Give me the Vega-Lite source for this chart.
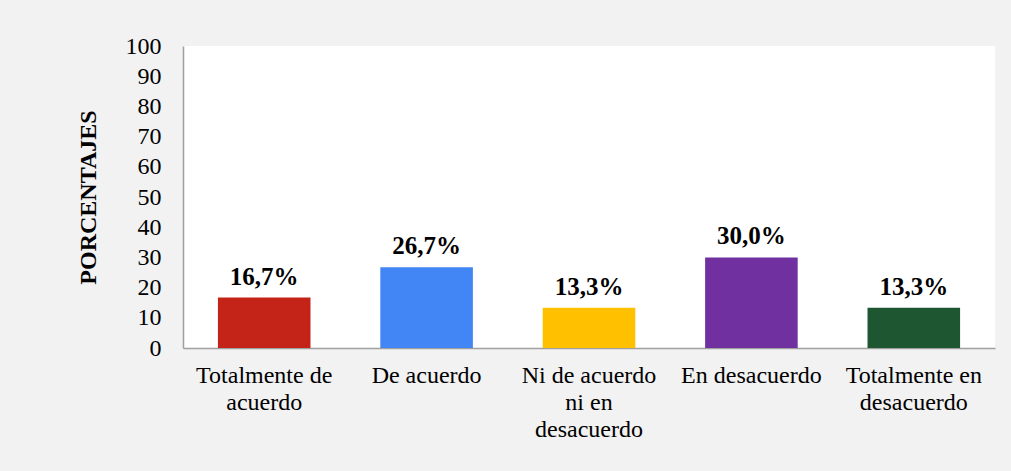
{
  "$schema": "https://vega.github.io/schema/vega-lite/v6.json",
  "autosize": {"type": "none"},
  "width": 812,
  "height": 302,
  "padding": {"left": 183, "top": 46, "right": 16, "bottom": 123},
  "background": "#f2f2f2",
  "view": {"fill": "white", "stroke": null},
  "config": {"font": "Liberation Serif"},
  "data": {
    "values": [
      {"categoria": "Totalmente de acuerdo", "porcentaje": 16.7, "etiqueta": "16,7%"},
      {"categoria": "De acuerdo", "porcentaje": 26.7, "etiqueta": "26,7%"},
      {"categoria": "Ni de acuerdo ni en desacuerdo", "porcentaje": 13.3, "etiqueta": "13,3%"},
      {"categoria": "En desacuerdo", "porcentaje": 30.0, "etiqueta": "30,0%"},
      {"categoria": "Totalmente en desacuerdo", "porcentaje": 13.3, "etiqueta": "13,3%"}
    ]
  },
  "encoding": {
    "x": {
      "field": "categoria",
      "type": "nominal",
      "sort": null,
      "scale": {"paddingInner": 0.43, "paddingOuter": 0.215},
      "axis": {
        "title": null,
        "labelAngle": 0,
        "labelFont": "Liberation Serif",
        "labelFontSize": 24,
        "labelColor": "black",
        "labelPadding": 15,
        "labelLineHeight": 27,
        "labelBaseline": "top",
        "ticks": false,
        "domainColor": "#a0a0a0",
        "domainWidth": 1.5,
        "labelLimit": 0,
        "labelExpr": "datum.value == 'Totalmente de acuerdo' ? ['Totalmente de', 'acuerdo'] : datum.value == 'Ni de acuerdo ni en desacuerdo' ? ['Ni de acuerdo', 'ni en', 'desacuerdo'] : datum.value == 'Totalmente en desacuerdo' ? ['Totalmente en', 'desacuerdo'] : datum.value"
      }
    },
    "y": {
      "field": "porcentaje",
      "type": "quantitative",
      "scale": {"domain": [0, 100], "nice": false},
      "axis": {
        "title": "PORCENTAJES",
        "titleFont": "Liberation Serif",
        "titleFontSize": 24,
        "titleFontWeight": "bold",
        "titleColor": "black",
        "titlePadding": 25,
        "values": [0, 10, 20, 30, 40, 50, 60, 70, 80, 90, 100],
        "grid": false,
        "ticks": false,
        "labelFont": "Liberation Serif",
        "labelFontSize": 24,
        "labelColor": "black",
        "labelPadding": 22,
        "labelFlush": false,
        "domainColor": "#a0a0a0",
        "domainWidth": 1.5
      }
    }
  },
  "layer": [
    {
      "mark": {"type": "bar"},
      "encoding": {
        "color": {
          "field": "categoria",
          "type": "nominal",
          "sort": null,
          "scale": {
            "domain": ["Totalmente de acuerdo", "De acuerdo", "Ni de acuerdo ni en desacuerdo", "En desacuerdo", "Totalmente en desacuerdo"],
            "range": ["#c42318", "#4285f4", "#ffc000", "#7030a0", "#1e5631"]
          },
          "legend": null
        }
      }
    },
    {
      "mark": {"type": "text", "baseline": "alphabetic", "dy": -13, "fontSize": 25, "fontWeight": "bold", "font": "Liberation Serif", "color": "black"},
      "encoding": {"text": {"field": "etiqueta"}}
    }
  ]
}
